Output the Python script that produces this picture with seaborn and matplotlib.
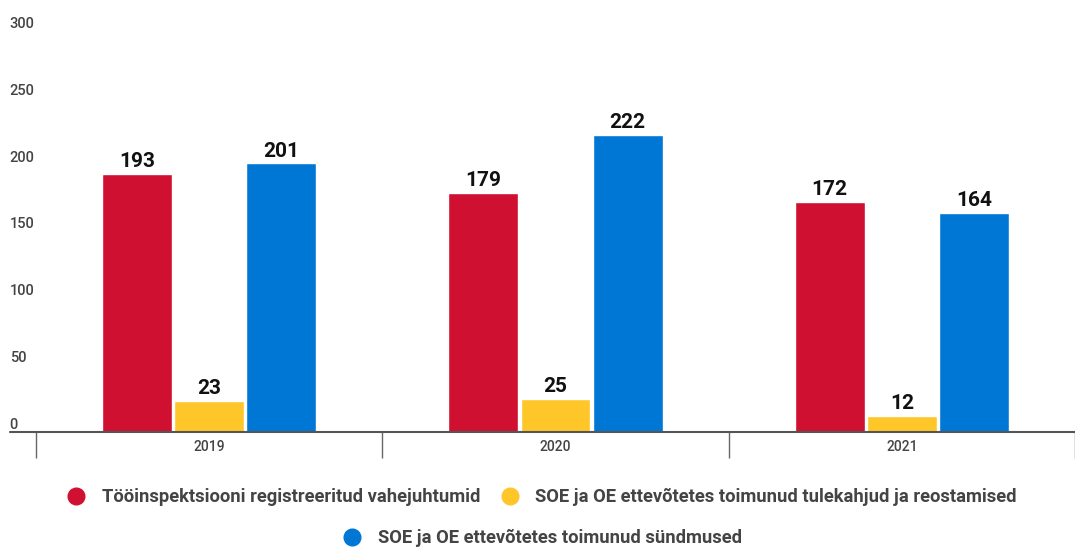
import pandas as pd
import numpy as np
import matplotlib.pyplot as plt
from matplotlib.lines import Line2D
import seaborn as sns

# Dados do gráfico
anos = ['2019', '2020', '2021']
series = ['Tööinspektsiooni registreeritud vahejuhtumid',
          'SOE ja OE ettevõtetes toimunud tulekahjud ja reostamised',
          'SOE ja OE ettevõtetes toimunud sündmused']
vahejuhtumid = [193, 179, 172]
tulekahjud = [23, 25, 12]
sundmused = [201, 222, 164]
cores = ['#D01030', '#FFC629', '#0077D4']

df = pd.DataFrame({
    'ano': anos * 3,
    'serie': [series[0]] * 3 + [series[1]] * 3 + [series[2]] * 3,
    'valor': vahejuhtumid + tulekahjud + sundmused,
})

sns.set_style('white')
plt.rcParams['font.family'] = ['Roboto', 'DejaVu Sans']

fig = plt.figure(figsize=(10.75, 5.48), dpi=100)
ax = fig.add_axes([36 / 1075, 116 / 548, 1 - 36 / 1075, 401 / 548])

sns.barplot(data=df, x='ano', y='valor', hue='serie', palette=cores,
            width=0.625, gap=0.03, saturation=1, legend=False, ax=ax)

for cont in ax.containers:
    ax.bar_label(cont, padding=2, fontsize=15, fontweight='bold', color='#111111')

ax.set_ylim(0, 300)
ax.set_xlim(-0.5, 2.5)
ax.set_yticks(range(0, 301, 50))
ax.set_yticklabels([str(v) for v in range(0, 301, 50)], fontweight='medium')
ax.set_xlabel('')
ax.set_ylabel('')
for s in ['top', 'right', 'left', 'bottom']:
    ax.spines[s].set_visible(False)

# rotulos do eixo y acima da linha
ax.tick_params(axis='y', left=False, length=0, pad=19, labelsize=10.5, labelcolor='#444444')
for lab in ax.get_yticklabels():
    lab.set_horizontalalignment('left')
    lab.set_verticalalignment('bottom')

# separadores das categorias
ax.set_xticks([-0.5, 0.5, 1.5, 2.5], minor=True)
ax.tick_params(axis='x', which='minor', bottom=True, length=19, width=1,
               color='#666666', direction='out')
ax.tick_params(axis='x', which='major', bottom=False, length=0, pad=6,
               labelsize=10, labelcolor='#444444')
for lab in ax.get_xticklabels():
    lab.set_fontweight('medium')

# linha de base
ax.add_line(Line2D([-26 / 1039, 1], [0, 0], transform=ax.transAxes,
                   color='#555555', lw=1.5, clip_on=False))

# Legenda
handles = [Line2D([], [], marker='o', ls='', markersize=12, color=c) for c in cores]
leg1 = fig.legend(handles[:2], series[:2], loc='center', bbox_to_anchor=(0.5, 1 - 497 / 548),
                  ncol=2, frameon=False, handletextpad=0.4, columnspacing=0.6,
                  prop={'size': 13.2, 'weight': 'bold'}, labelcolor='#444444')
leg2 = fig.legend(handles[2:], series[2:], loc='center', bbox_to_anchor=(0.5, 1 - 538 / 548),
                  frameon=False, handletextpad=0.4,
                  prop={'size': 13.2, 'weight': 'bold'}, labelcolor='#444444')

plt.savefig('out.png', dpi=100)
